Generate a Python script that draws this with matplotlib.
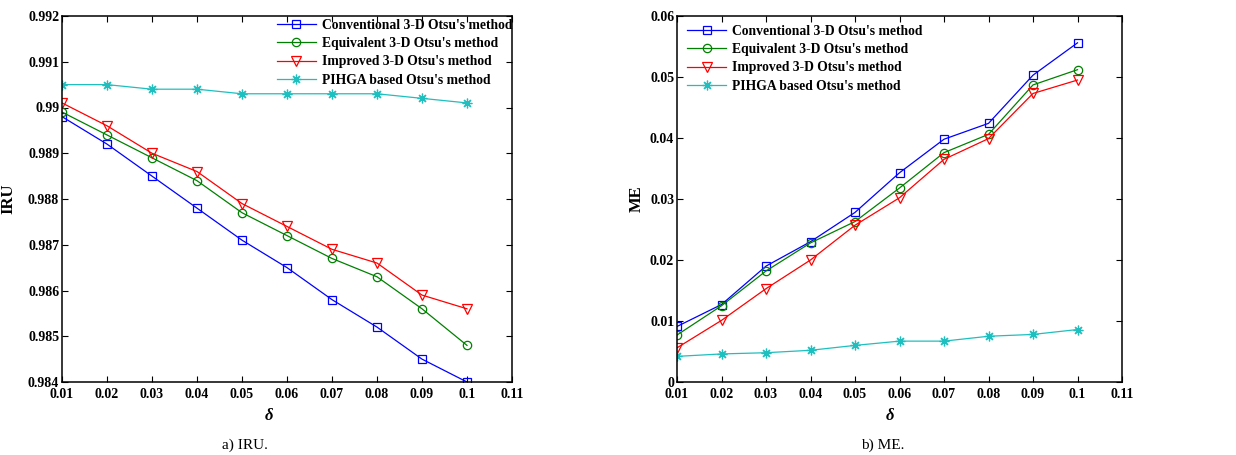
import matplotlib
matplotlib.use("Agg")
import matplotlib.pyplot as plt

delta = [0.01, 0.02, 0.03, 0.04, 0.05, 0.06, 0.07, 0.08, 0.09, 0.10]
labels = ["Conventional 3-D Otsu's method", "Equivalent 3-D Otsu's method",
          "Improved 3-D Otsu's method", "PIHGA based Otsu's method"]

iru_conv = [0.9898, 0.9892, 0.9885, 0.9878, 0.9871, 0.9865, 0.9858, 0.9852, 0.9845, 0.9840]
iru_equi = [0.9899, 0.9894, 0.9889, 0.9884, 0.9877, 0.9872, 0.9867, 0.9863, 0.9856, 0.9848]
iru_impr = [0.9901, 0.9896, 0.9890, 0.9886, 0.9879, 0.9874, 0.9869, 0.9866, 0.9859, 0.9856]
iru_pihga = [0.9905, 0.9905, 0.9904, 0.9904, 0.9903, 0.9903, 0.9903, 0.9903, 0.9902, 0.9901]

me_conv = [0.0091, 0.0127, 0.0190, 0.0230, 0.0278, 0.0343, 0.0398, 0.0424, 0.0503, 0.0556]
me_equi = [0.0077, 0.0125, 0.0182, 0.0228, 0.0263, 0.0318, 0.0376, 0.0406, 0.0487, 0.0512]
me_impr = [0.0056, 0.0101, 0.0153, 0.0200, 0.0257, 0.0302, 0.0365, 0.0399, 0.0473, 0.0495]
me_pihga = [0.0042, 0.0046, 0.0048, 0.0052, 0.0060, 0.0067, 0.0067, 0.0075, 0.0078, 0.0086]

xticks = [0.01, 0.02, 0.03, 0.04, 0.05, 0.06, 0.07, 0.08, 0.09, 0.10, 0.11]
xticklabels = ["0.01", "0.02", "0.03", "0.04", "0.05", "0.06", "0.07", "0.08", "0.09", "0.1", "0.11"]
iru_ticks = [0.984, 0.985, 0.986, 0.987, 0.988, 0.989, 0.990, 0.991, 0.992]
iru_ticklabels = ["0.984", "0.985", "0.986", "0.987", "0.988", "0.989", "0.99", "0.991", "0.992"]
me_ticks = [0, 0.01, 0.02, 0.03, 0.04, 0.05, 0.06]
me_ticklabels = ["0", "0.01", "0.02", "0.03", "0.04", "0.05", "0.06"]

colors = ["#0000ff", "#008000", "#ff0000", "#1fbfbf"]
markers = ["s", "o", "v", (8, 2, 0)]
msizes = [6, 6, 7, 7]

plt.rcParams['font.family'] = ['Liberation Serif', 'DejaVu Serif']
plt.rcParams['mathtext.fontset'] = 'custom'
plt.rcParams['mathtext.it'] = 'Liberation Serif:italic:bold'

W, H = 1236, 455
fig = plt.figure(figsize=(W / 100, H / 100), dpi=100)

def add_ax(l, r, t, b):
    return fig.add_axes([l / W, 1 - b / H, (r - l) / W, (b - t) / H])

ax1 = add_ax(62, 512, 16, 382)
ax2 = add_ax(677, 1122, 16, 382)

def style(ax, yticks, yticklabels, ylim, ylabel, ylab_x, xlab_x):
    ax.set_xlim(0.01, 0.11)
    ax.set_ylim(*ylim)
    ax.set_xticks(xticks)
    ax.set_xticklabels(xticklabels, fontweight='bold', fontsize=10)
    ax.set_yticks(yticks)
    ax.set_yticklabels(yticklabels, fontweight='bold', fontsize=10)
    ax.tick_params(direction='in', top=True, right=True, length=4, width=0.8)
    ax.tick_params(axis='x', pad=4)
    ax.tick_params(axis='y', pad=2)
    for s in ax.spines.values():
        s.set_linewidth(1.1)
    ax.set_xlabel(r'$\delta$', fontsize=12)
    ax.xaxis.set_label_coords(xlab_x, -0.071)
    ax.set_ylabel(ylabel, fontweight='bold', fontsize=12)
    ax.yaxis.set_label_coords(ylab_x, 0.5)

series1 = [iru_conv, iru_equi, iru_impr, iru_pihga]
series2 = [me_conv, me_equi, me_impr, me_pihga]
for i in range(4):
    for ax, s in ((ax1, series1[i]), (ax2, series2[i])):
        ax.plot(delta, s, color=colors[i], marker=markers[i], markersize=msizes[i],
                markerfacecolor='none', markeredgecolor=colors[i], markeredgewidth=0.9,
                linewidth=0.9, label=labels[i])

style(ax1, iru_ticks, iru_ticklabels, (0.984, 0.992), "IRU", -0.102, 0.46)
style(ax2, me_ticks, me_ticklabels, (0, 0.06), "ME", -0.072, 0.479)

legprops = dict(frameon=False, prop={'weight': 'bold', 'size': 9.8}, handlelength=2.9,
                handletextpad=0.4, labelspacing=0.38, borderpad=0.0, borderaxespad=0.0)
ax1.legend(loc='upper right', bbox_to_anchor=(1.0, 1 - 3 / 366), **legprops)
ax2.legend(loc='upper left', bbox_to_anchor=(10 / 445, 1 - 9 / 366), **legprops)

fig.text(245 / W, 1 - 445 / H, "a) IRU.", ha='center', va='center', fontsize=11)
fig.text(883 / W, 1 - 445 / H, "b) ME.", ha='center', va='center', fontsize=11)

fig.savefig("out.png", dpi=100)
